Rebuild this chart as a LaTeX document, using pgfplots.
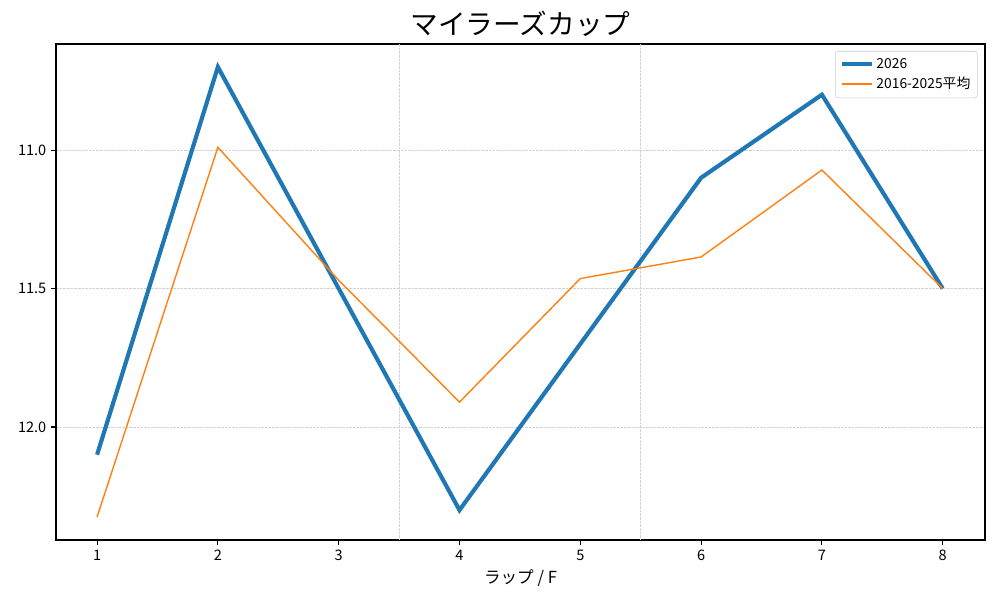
\documentclass[border=0pt]{standalone}
\usepackage{fontspec}
\setmainfont{Noto Sans CJK JP}
\usepackage{pgfplots}
\pgfplotsset{compat=1.18}
\definecolor{c0}{HTML}{1F77B4}
\definecolor{c1}{HTML}{FF7F0E}
\begin{document}
\begin{tikzpicture}
\useasboundingbox (0,0) rectangle (10in,6in);
\begin{axis}[
    at={(0.56in,0.60in)}, anchor=south west,
    scale only axis, width=9.29in, height=4.96in,
    xmin=0.66, xmax=8.35, ymin=10.617, ymax=12.408,
    y dir=reverse,
    xtick={1,...,8}, ytick={11,11.5,12},
    yticklabel style={/pgf/number format/.cd, fixed, fixed zerofill, precision=1},
    /pgf/number format/assume math mode=true,
    ticklabel style={font=\fontsize{10.5}{12}\selectfont},
    tick align=outside, tick pos=left,
    major tick length=3.5pt,
    every tick/.style={black, line width=0.8pt},
    axis line style={line width=0.8pt},
    ymajorgrids,
    grid style={dash pattern=on 1.85pt off 0.8pt, color=black!18, line width=0.5pt},
    extra x ticks={3.5,5.5}, extra x tick labels={},
    extra x tick style={grid=major, major tick length=0pt},
    title={マイラーズカップ},
    title style={font=\fontsize{20}{24}\selectfont, at={(0.5,1)}, anchor=south, yshift=-4.5pt},
    xlabel={ラップ / F},
    xlabel style={font=\fontsize{12}{14}\selectfont, yshift=3.5pt},
    legend style={at={(0.992,0.986)}, anchor=north east, draw=black!20,
        rounded corners=2pt, font=\fontsize{10}{12}\selectfont,
        row sep=1pt, inner sep=3pt},
    legend cell align=left,
    legend image code/.code={\draw[#1] (0in,0in) -- (0.3in,0in);},
]
\addplot[c0, line width=3pt] coordinates {
    (1,12.10) (2,10.70) (3,11.50) (4,12.30) (5,11.70) (6,11.10) (7,10.80) (8,11.50)
};
\addlegendentry{2026}
\addplot[c1, line width=1pt] coordinates {
    (1,12.325) (2,10.99) (3,11.47) (4,11.91) (5,11.464) (6,11.386) (7,11.072) (8,11.50)
};
\addlegendentry{2016-2025平均}
\end{axis}
\end{tikzpicture}
\end{document}
